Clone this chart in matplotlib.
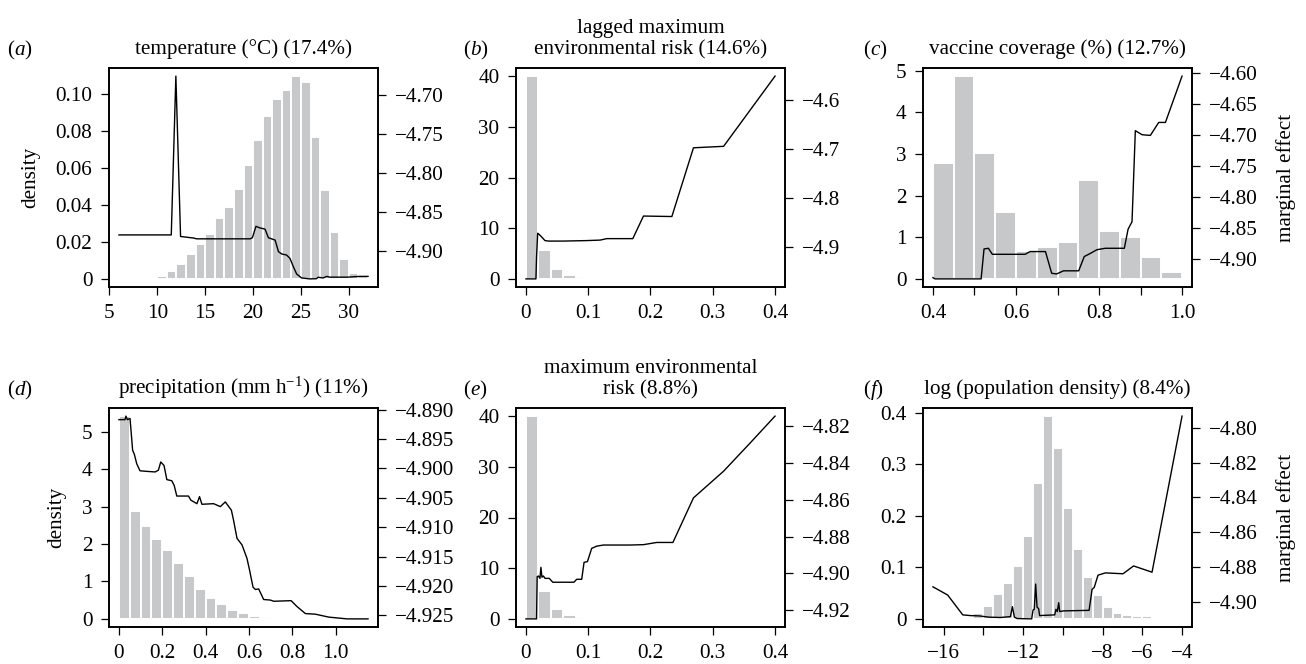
import numpy as np
import matplotlib
matplotlib.use("Agg")
import matplotlib.pyplot as plt

plt.rcParams["font.family"] = ["Liberation Serif", "DejaVu Serif"]
plt.rcParams["mathtext.fontset"] = "custom"
plt.rcParams["mathtext.rm"] = "Liberation Serif"
plt.rcParams["mathtext.it"] = "Liberation Serif:italic"
plt.rcParams["axes.unicode_minus"] = True

BAR_COLOR = "#c7c8c9"
FS = 15.2

# ---- (a) temperature ----
temp_bin_start, temp_bin_width = 9, 1
temp_density = [0.0007, 0.0016, 0.0041, 0.0081, 0.0135, 0.0187, 0.0243, 0.0328, 0.0387,
                0.0486, 0.0613, 0.0748, 0.0881, 0.0973, 0.102, 0.1095, 0.1063, 0.0764,
                0.0481, 0.0252, 0.0105, 0.0034, 0.0016]
temp_x = [6.0, 11.46, 11.94, 12.43, 13.8, 14.1, 19.7, 19.93, 20.3, 20.7, 21.25, 21.6, 22.3,
          22.65, 23.0, 23.5, 23.85, 24.2, 24.55, 25.07, 25.9, 26.6, 26.8, 27.3, 27.7, 28.0,
          29.8, 31.15, 32.0]
temp_eff = [-4.879, -4.879, -4.676, -4.881, -4.883, -4.884, -4.884, -4.8825, -4.868, -4.870,
            -4.8716, -4.8826, -4.8856, -4.9004, -4.9034, -4.9047, -4.909, -4.9195, -4.929,
            -4.934, -4.9352, -4.935, -4.9331, -4.934, -4.932, -4.933, -4.933, -4.932, -4.932]

# ---- (b) lagged maximum environmental risk ----
lmer_bin_start, lmer_bin_width = 0, 0.02
lmer_density = [40.0, 5.7, 1.95, 0.8, 0.38, 0.15, 0.08, 0.04, 0.03, 0.02, 0.02, 0.015,
                0.01, 0.01, 0.01, 0.01, 0.01, 0.01, 0.005, 0.005]
lmer_x = [0, 0.016, 0.017, 0.0188, 0.0225, 0.0306, 0.036, 0.06, 0.0976, 0.119, 0.1298,
          0.1716, 0.1887, 0.2343, 0.269, 0.3174, 0.4]
lmer_eff = [-4.965, -4.965, -4.92, -4.872, -4.876, -4.887, -4.888, -4.888, -4.887, -4.886,
            -4.883, -4.883, -4.837, -4.838, -4.698, -4.695, -4.552]

# ---- (c) vaccine coverage ----
vac_bin_start, vac_bin_width = 0.4, 0.05
vac_density = [2.776, 4.872, 3.024, 1.608, 0.672, 0.768, 0.88, 2.368, 1.16, 1.0, 0.52, 0.168]
vac_x = [0.4, 0.405, 0.516, 0.523, 0.5335, 0.543, 0.622, 0.634, 0.671, 0.686, 0.698, 0.7146,
         0.751, 0.7645, 0.779, 0.795, 0.815, 0.861, 0.87, 0.8795, 0.8875, 0.9036, 0.9237,
         0.9438, 0.952, 0.96, 1.0]
vac_eff = [-4.930, -4.932, -4.932, -4.8838, -4.8827, -4.8924, -4.8924, -4.888, -4.888, -4.923,
           -4.924, -4.919, -4.919, -4.896, -4.891, -4.885, -4.8827, -4.8827, -4.852, -4.840,
           -4.6933, -4.6998, -4.7009, -4.680, -4.680, -4.680, -4.6054]

# ---- (d) precipitation ----
prec_bin_start, prec_bin_width = 0, 0.05
prec_density = [5.42, 2.88, 2.48, 2.135, 1.84, 1.486, 1.139, 0.81, 0.57, 0.39, 0.24, 0.15,
                0.089, 0.053, 0.02, 0.01, 0.005, 0.004, 0.003, 0.002]
prec_x = [0, 0.028, 0.032, 0.039, 0.051, 0.0556, 0.063, 0.071, 0.082, 0.097, 0.128, 0.167,
          0.182, 0.193, 0.208, 0.221, 0.244, 0.255, 0.267, 0.321, 0.332, 0.36, 0.372, 0.383,
          0.437, 0.468, 0.491, 0.519, 0.529, 0.545, 0.568, 0.591, 0.603, 0.619, 0.63, 0.645,
          0.668, 0.699, 0.715, 0.795, 0.822, 0.861, 0.907, 0.969, 1.054, 1.15]
prec_eff = [-4.8917, -4.8917, -4.8911, -4.8917, -4.8915, -4.8935, -4.8969, -4.8976, -4.8992,
            -4.9004, -4.9005, -4.9006, -4.9003, -4.8989, -4.8995, -4.9019, -4.9021, -4.9029,
            -4.9047, -4.9047, -4.9054, -4.9060, -4.9048, -4.9061, -4.9060, -4.9065, -4.9057,
            -4.9071, -4.9088, -4.9119, -4.9130, -4.9153, -4.9173, -4.9202, -4.9206, -4.9205,
            -4.9223, -4.9224, -4.9226, -4.9225, -4.9235, -4.9247, -4.9248, -4.9253, -4.9256,
            -4.9256]

# ---- (e) maximum environmental risk ----
mer_bin_start, mer_bin_width = 0, 0.02
mer_density = [40.0, 5.6, 1.9, 0.79, 0.39, 0.12, 0.06, 0.04, 0.03, 0.02, 0.02, 0.015,
               0.01, 0.01, 0.01, 0.01, 0.01, 0.01, 0.005, 0.005]
mer_x = [0, 0.017, 0.018, 0.02, 0.0225, 0.024, 0.0257, 0.028, 0.0306, 0.0375, 0.043, 0.0547,
         0.077, 0.0815, 0.0895, 0.0933, 0.0987, 0.1056, 0.1137, 0.1244, 0.167, 0.1887, 0.21,
         0.236, 0.269, 0.3174, 0.36, 0.4]
mer_eff = [-4.9247, -4.9247, -4.9018, -4.9014, -4.9027, -4.8967, -4.9021, -4.9014, -4.9027,
           -4.9027, -4.9048, -4.9048, -4.9048, -4.9032, -4.9032, -4.8940, -4.8936, -4.8864,
           -4.8852, -4.8846, -4.8846, -4.8844, -4.8832, -4.8832, -4.8590, -4.8445, -4.8292,
           -4.8146]

# ---- (f) log(population density) ----
pop_bin_start, pop_bin_width = -15.5, 0.5
pop_density = [0.001, 0.003, 0.012, 0.025, 0.0485, 0.07, 0.103, 0.161, 0.265, 0.394, 0.333,
               0.216, 0.1366, 0.0816, 0.0466, 0.0233, 0.0123, 0.0078, 0.0065, 0.0065, 0.002,
               0.002]
pop_x = [-16.54, -15.8, -15.04, -14.66, -14.2, -13.73, -13.15, -12.64, -12.54, -12.44, -12.3,
         -11.57, -11.5, -11.44, -11.37, -11.3, -11.22, -11.17, -10.8, -10.41, -10.35, -10.28,
         -10.21, -10.16, -9.96, -8.68, -8.53, -8.42, -8.23, -7.86, -6.97, -6.44, -5.51, -4.0]
pop_eff = [-4.8913, -4.8960, -4.9074, -4.9078, -4.9080, -4.9087, -4.9089, -4.9084, -4.9027,
           -4.9087, -4.9095, -4.9097, -4.9046, -4.9042, -4.8897, -4.9030, -4.9038, -4.9078,
           -4.9076, -4.9074, -4.9042, -4.9055, -4.9004, -4.9055, -4.9051, -4.9048, -4.8928,
           -4.8916, -4.8846, -4.8833, -4.8838, -4.8793, -4.8829, -4.7933]

panels = [
    dict(tag="a", title="temperature (°C) (17.4%)",
         start=temp_bin_start, width=temp_bin_width, dens=temp_density, x=temp_x, y=temp_eff,
         xticks=[5, 10, 15, 20, 25, 30], xlabels=["5", "10", "15", "20", "25", "30"],
         lticks=[0, 0.02, 0.04, 0.06, 0.08, 0.10],
         llabels=["0", "0.02", "0.04", "0.06", "0.08", "0.10"],
         rticks=[-4.90, -4.85, -4.80, -4.75, -4.70], rfmt="{:.2f}", ylabel="density"),
    dict(tag="b", title="lagged maximum\nenvironmental risk (14.6%)",
         start=lmer_bin_start, width=lmer_bin_width, dens=lmer_density, x=lmer_x, y=lmer_eff,
         xticks=[0, 0.1, 0.2, 0.3, 0.4], xlabels=["0", "0.1", "0.2", "0.3", "0.4"],
         lticks=[0, 10, 20, 30, 40], llabels=["0", "10", "20", "30", "40"],
         rticks=[-4.9, -4.8, -4.7, -4.6], rfmt="{:.1f}"),
    dict(tag="c", title="vaccine coverage (%) (12.7%)",
         start=vac_bin_start, width=vac_bin_width, dens=vac_density, x=vac_x, y=vac_eff,
         xticks=[0.4, 0.5, 0.6, 0.7, 0.8, 0.9, 1.0],
         xlabels=["0.4", "", "0.6", "", "0.8", "", "1.0"],
         lticks=[0, 1, 2, 3, 4, 5], llabels=["0", "1", "2", "3", "4", "5"],
         rticks=[-4.90, -4.85, -4.80, -4.75, -4.70, -4.65, -4.60], rfmt="{:.2f}",
         rlabel="marginal effect"),
    dict(tag="d", title="precipitation (mm h$^{-1}$) (11%)",
         start=prec_bin_start, width=prec_bin_width, dens=prec_density, x=prec_x, y=prec_eff,
         xticks=[0, 0.2, 0.4, 0.6, 0.8, 1.0], xlabels=["0", "0.2", "0.4", "0.6", "0.8", "1.0"],
         lticks=[0, 1, 2, 3, 4, 5], llabels=["0", "1", "2", "3", "4", "5"],
         rticks=[-4.925, -4.920, -4.915, -4.910, -4.905, -4.900, -4.895, -4.890],
         rfmt="{:.3f}", ylabel="density"),
    dict(tag="e", title="maximum environmental\nrisk (8.8%)",
         start=mer_bin_start, width=mer_bin_width, dens=mer_density, x=mer_x, y=mer_eff,
         xticks=[0, 0.1, 0.2, 0.3, 0.4], xlabels=["0", "0.1", "0.2", "0.3", "0.4"],
         lticks=[0, 10, 20, 30, 40], llabels=["0", "10", "20", "30", "40"],
         rticks=[-4.92, -4.90, -4.88, -4.86, -4.84, -4.82], rfmt="{:.2f}"),
    dict(tag="f", title="log (population density) (8.4%)",
         start=pop_bin_start, width=pop_bin_width, dens=pop_density, x=pop_x, y=pop_eff,
         xticks=[-16, -14, -12, -10, -8, -6, -4],
         xlabels=["\u221216", "", "\u221212", "", "\u22128", "\u22126", "\u22124"],
         lticks=[0, 0.1, 0.2, 0.3, 0.4], llabels=["0", "0.1", "0.2", "0.3", "0.4"],
         rticks=[-4.90, -4.88, -4.86, -4.84, -4.82, -4.80], rfmt="{:.2f}",
         rlabel="marginal effect"),
]

W, H = 1306, 664
fig = plt.figure(figsize=(W / 100, H / 100), dpi=100)

col_left = [109, 516, 923]
row_top = [68, 408]
box_w, box_h = 269, 219


def ext(lo, hi):
    # R-style 4% axis extension
    r = hi - lo
    return lo - 0.04 * r, hi + 0.04 * r


def style(ax):
    ax.tick_params(direction="out", length=6, width=0.9, labelsize=FS, pad=6)
    for s in ax.spines.values():
        s.set_linewidth(1.2)


for i, p in enumerate(panels):
    r, c = divmod(i, 3)
    rect = [col_left[c] / W, 1 - (row_top[r] + box_h) / H, box_w / W, box_h / H]
    ax = fig.add_axes(rect)
    dens = np.array(p["dens"])
    lefts = p["start"] + p["width"] * np.arange(len(dens))
    ax.bar(lefts, dens, width=p["width"], align="edge", color=BAR_COLOR,
           edgecolor="white", linewidth=1.4)
    ax.set_xlim(*ext(min(p["x"]), max(p["x"])))
    ax.set_ylim(*ext(0, dens.max()))
    ax.set_xticks(p["xticks"], p["xlabels"])
    ax.set_yticks(p["lticks"], p["llabels"])
    style(ax)
    if "ylabel" in p:
        ax.set_ylabel(p["ylabel"], fontsize=FS, labelpad=11)

    ax2 = ax.twinx()
    ax2.plot(p["x"], p["y"], color="black", lw=1.0)
    ax2.set_ylim(*ext(min(p["y"]), max(p["y"])))
    rt = p["rticks"]
    ax2.set_yticks(rt, [p["rfmt"].format(v).replace("-", "\u2212") for v in rt])
    style(ax2)
    if "rlabel" in p:
        ax2.set_ylabel(p["rlabel"], fontsize=FS, labelpad=13)

    ax.set_title(p["title"], fontsize=FS, pad=10, linespacing=1.15)
    lx = [7, 463, 863][c]
    ly = [55, 395][r]
    fig.text(lx / W, 1 - ly / H, r"($\mathit{%s}$)" % p["tag"], fontsize=FS,
             ha="left", va="baseline")

fig.savefig("out.png", dpi=100)
